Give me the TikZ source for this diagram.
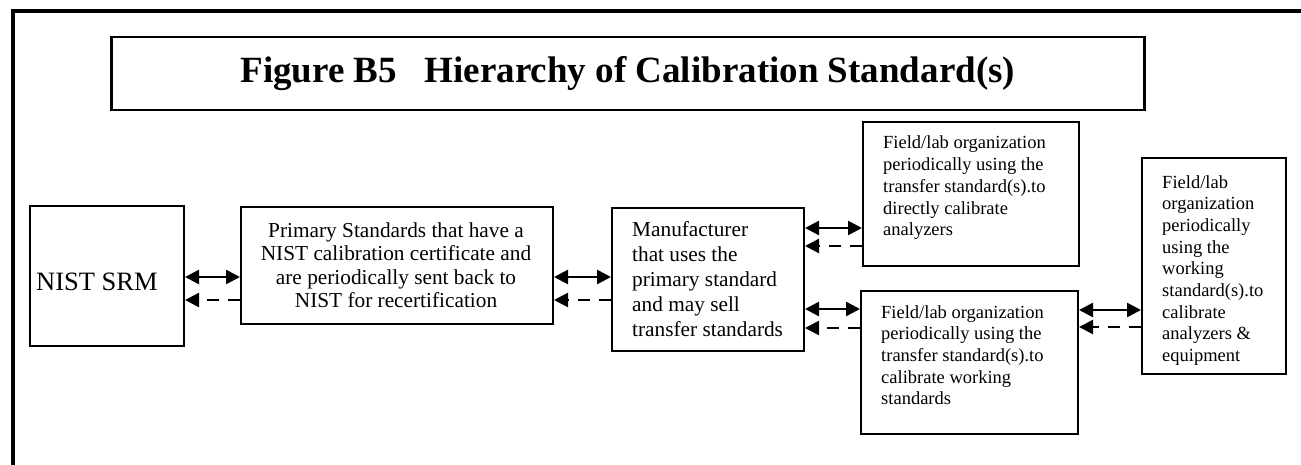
\documentclass[tikz,border=0pt]{standalone}
\usepackage{fontspec}
\setmainfont{Liberation Serif}
\usetikzlibrary{arrows.meta}
\tikzset{
  box/.style={draw, line width=2pt, rectangle, inner sep=0pt, anchor=north west},
  txt/.style={inner sep=0pt, anchor=base west, align=left},
  fieldfont/.style={font=\fontsize{18.5}{21.7}\selectfont},
  mainfont/.style={font=\fontsize{21.3}{23.5}\selectfont},
  dbl/.style={line width=2.5pt, {Triangle[length=14pt,width=14pt]}-{Triangle[length=14pt,width=14pt]}},
  back/.style={line width=2.5pt, dash pattern=on 12pt off 9pt, -{Triangle[length=14pt,width=14pt]}}
}
\begin{document}
\begin{tikzpicture}[x=1pt,y=-1pt]
\useasboundingbox (0,0) rectangle (1301,465);
% outer frame
\draw[line width=4pt] (13,465) -- (13,11) -- (1301,11);
% title
\node[box, line width=2.5pt, minimum width=1033pt, minimum height=73pt] (title) at (110,36) {};
\node[inner sep=0pt, font=\fontsize{37}{40}\selectfont\bfseries] (titletext) at (title.center) {Figure B5\ \ \ Hierarchy of Calibration Standard(s)};
% boxes
\node[box, minimum width=154pt, minimum height=140pt] (nist) at (29,205) {};
\node[box, minimum width=312pt, minimum height=117pt] (prim) at (240,206) {};
\node[box, minimum width=192pt, minimum height=143pt] (manu) at (611,207) {};
\node[box, minimum width=216pt, minimum height=144pt] (tr) at (862,121) {};
\node[box, minimum width=217pt, minimum height=143pt] (br) at (860,290) {};
\node[box, minimum width=144pt, minimum height=216pt] (fr) at (1141,157) {};
% texts (anchor base = baseline of the last line)
\node[txt, font=\fontsize{26.5}{30}\selectfont] (nisttext) at (36,290) {NIST SRM};
\node[inner sep=0pt, anchor=base, align=center, mainfont] (primtext) at (396,307.5)
  {Primary Standards that have a\\NIST calibration certificate and\\are periodically sent back to\\NIST for recertification};
\node[txt, font=\fontsize{21.3}{25}\selectfont] (manutext) at (632,336)
  {Manufacturer\\that uses the\\primary standard\\and may sell\\transfer standards};
\node[txt, fieldfont] (trtext) at (883,235.8)
  {Field/lab organization\\periodically using the\\transfer standard(s).to\\directly calibrate\\analyzers};
\node[txt, fieldfont] (brtext) at (881,404.8)
  {Field/lab organization\\periodically using the\\transfer standard(s).to\\calibrate working\\standards};
\node[txt, fieldfont] (frtext) at (1162,361.6)
  {Field/lab\\organization\\periodically\\using the\\working\\standard(s).to\\calibrate\\analyzers \&\\equipment};
% connectors
\draw[dbl] (nist.east |- 0,277) -- (prim.west |- 0,277);
\draw[back] (prim.west |- 0,300) -- (nist.east |- 0,300);
\draw[dbl] (prim.east |- 0,277) -- (manu.west |- 0,277);
\draw[back] (manu.west |- 0,300) -- (prim.east |- 0,300);
\draw[dbl] (manu.east |- 0,228) -- (tr.west |- 0,228);
\draw[back] (tr.west |- 0,246) -- (manu.east |- 0,246);
\draw[dbl] (manu.east |- 0,309) -- (br.west |- 0,309);
\draw[back] (br.west |- 0,328) -- (manu.east |- 0,328);
\draw[dbl] (br.east |- 0,310) -- (fr.west |- 0,310);
\draw[back] (fr.west |- 0,327) -- (br.east |- 0,327);
\end{tikzpicture}
\end{document}
